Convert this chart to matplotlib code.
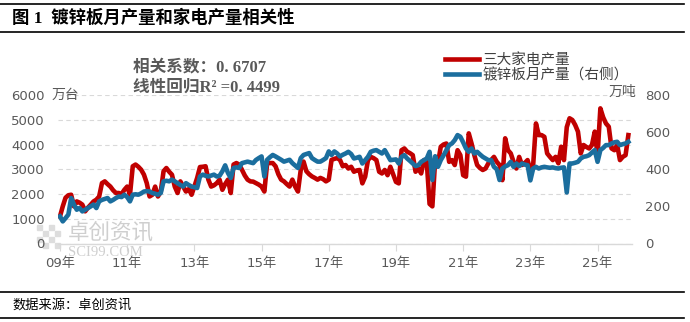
import numpy as np
import matplotlib
matplotlib.use("Agg")
import matplotlib.pyplot as plt
from matplotlib.lines import Line2D
from matplotlib.patches import Rectangle

plt.rcParams['font.family'] = ['DejaVu Sans', 'Noto Sans CJK SC']

# 月度数据 2009-01 ~ 2025-12
appliance = [  # 三大家电产量 (万台)
    1090, 1500, 1850, 1950, 1970, 1500, 1700, 1650, 1570, 1300, 1450, 1570,
    1700, 1770, 1900, 2440, 2510, 2400, 2300, 2150, 2040, 2040, 2000, 2170,
    2300, 1970, 3120, 3190, 3100, 2980, 2780, 2440, 1900, 1970, 2300, 1900,
    2100, 2920, 3050, 2900, 2780, 2300, 2040, 2510, 2300, 2100, 2200, 1970,
    2300, 2650, 3090, 3100, 3120, 2580, 2300, 2350, 2440, 2580, 2170, 2400,
    2580, 2040, 3190, 3250, 3190, 2980, 2750, 2580, 2510, 2500, 2440, 2380,
    2300, 2100, 3250, 3250, 3250, 3120, 2800, 2580, 2510, 2400, 2300, 2580,
    2300, 2100, 2980, 3310, 2920, 2800, 2710, 2650, 2580, 2650, 2600, 2510,
    2580, 3380, 3420, 3450, 3380, 3120, 3170, 3030, 3100, 2900, 2950, 2970,
    2430, 2700, 3370, 3500, 3450, 3370, 2900, 2830, 2970, 2760, 3100, 2800,
    2490, 2430, 3770, 3840, 3710, 3650, 3570, 2900, 3030, 2830, 3370, 3300,
    1600, 1500, 3370, 3240, 3910, 4000, 4040, 3300, 3370, 3170, 3770, 3570,
    2760, 2700, 4450, 4040, 3570, 3170, 3050, 2970, 3030, 3240, 3370, 3500,
    3300, 3170, 2560, 4250, 3770, 3640, 3300, 3030, 3500, 3170, 3250, 3370,
    2970, 3170, 4850, 4380, 4380, 4310, 3640, 3500, 3370, 3500, 3240, 3910,
    3370, 4700, 5060, 4990, 4790, 4520, 3640, 3980, 3900, 3840, 3980, 4520,
    3570, 5460, 5100, 4850, 4720, 3840, 3770, 3980, 3370, 3500, 3570, 4380,
]
galv = [  # 镀锌板月产量 (万吨)
    146, 119, 137, 156, 245, 210, 182, 191, 173, 182, 191, 200,
    210, 191, 227, 235, 240, 245, 227, 235, 245, 253, 250, 263,
    250, 227, 263, 265, 263, 270, 280, 282, 280, 272, 268, 263,
    272, 335, 338, 335, 344, 335, 325, 315, 307, 325, 315, 307,
    303, 299, 361, 371, 365, 361, 366, 371, 361, 365, 389, 421,
    380, 353, 407, 410, 407, 433, 437, 441, 437, 433, 450, 460,
    469, 361, 451, 465, 477, 469, 460, 451, 441, 446, 451, 433,
    420, 407, 460, 477, 482, 487, 460, 450, 441, 441, 450, 460,
    496, 477, 496, 485, 469, 478, 485, 494, 482, 458, 462, 467,
    431, 449, 467, 494, 500, 503, 494, 485, 503, 476, 449, 451,
    453, 431, 467, 476, 458, 445, 431, 417, 422, 440, 449, 458,
    494, 342, 470, 413, 449, 475, 503, 530, 539, 557, 584, 575,
    545, 512, 494, 512, 485, 494, 480, 467, 458, 449, 449, 413,
    400, 342, 404, 415, 422, 440, 413, 431, 417, 431, 425, 422,
    340, 404, 413, 404, 410, 413, 410, 408, 410, 406, 404, 408,
    410, 275, 431, 431, 435, 440, 458, 467, 470, 476, 490, 503,
    440, 503, 515, 530, 530, 539, 545, 548, 530, 535, 539, 548,
]
years = ['09年', '11年', '13年', '15年', '17年', '19年', '21年', '23年', '25年']
tick_pos = [i * 24 for i in range(len(years))]
x = np.arange(len(appliance))

RED = '#C00000'
BLUE = '#1B6E9E'
GRAY = '#595959'
W, H = 690, 322


def fx(px):
    return px / W


def fy(py):
    return 1 - py / H


fig = plt.figure(figsize=(6.9, 3.22), dpi=100)

# watermark (behind everything)
for i in range(4):
    for j in range(4):
        if (i + j) % 2 == 0:
            fig.add_artist(Rectangle((fx(37 + i * 6), fy(230 + j * 6)), 5 / W, 5 / H,
                                     color='#dddddd', zorder=0))
fig.text(fx(68), fy(233), '卓创资讯', fontsize=15.5, color='#cfcfcf', family=['Noto Sans CJK SC'],
         va='center', ha='left', zorder=0)
fig.text(fx(68), fy(252), 'SCI99.COM', fontsize=10.5, color='#cfcfcf', family=['Liberation Serif'],
         va='center', ha='left', zorder=0)

ax = fig.add_axes([fx(58), fy(243.5), fx(632) - fx(58), fy(95) - fy(243.5)])
ax.patch.set_alpha(0)
ax2 = ax.twinx()

l1, = ax.plot(x, appliance, color=RED, lw=3.3, solid_joinstyle='round', label='三大家电产量')
l2, = ax2.plot(x, galv, color=BLUE, lw=3.3, solid_joinstyle='round', label='镀锌板月产量（右侧）')

ax.set_xlim(-0.7, 204.3)
ax.set_ylim(0, 6000)
ax2.set_ylim(0, 800)
ax.set_yticks(range(0, 6001, 1000))
ax2.set_yticks(range(0, 801, 200))
ax.set_xticks(tick_pos)
ax.set_xticklabels(years)
ax.grid(axis='y', color='#d9d9d9', ls=(0, (4, 3)), lw=0.8)
ax.set_axisbelow(True)

for a in (ax, ax2):
    for s in ('top', 'left', 'right'):
        a.spines[s].set_visible(False)
    a.spines['bottom'].set_color('#d9d9d9')
    a.spines['bottom'].set_linewidth(1.0)
ax2.spines['bottom'].set_visible(False)

ax.tick_params(axis='y', length=0, pad=9.5, labelsize=9.5, labelcolor=GRAY)
ax2.tick_params(axis='y', length=0, pad=9.5, labelsize=9.5, labelcolor=GRAY)
ax.tick_params(axis='x', length=5, color='#d9d9d9', pad=5, labelsize=9.5, labelcolor=GRAY)

# units
fig.text(fx(52), fy(95), '万台', fontsize=10, color=GRAY, va='center', ha='left')
fig.text(fx(636), fy(92), '万吨', fontsize=10, color=GRAY, va='center', ha='right')

# title and rules
fig.add_artist(Line2D([0, fx(684)], [fy(4), fy(4)], color='black', lw=1.2))
fig.add_artist(Line2D([0, fx(684)], [fy(31.5), fy(31.5)], color='black', lw=1.2))
fig.text(fx(12), fy(18), '图 1  镀锌板月产量和家电产量相关性', fontsize=12.5, fontweight='bold',
         family=['Liberation Serif', 'Noto Sans CJK SC'], va='center', ha='left', color='black')
fig.add_artist(Line2D([0, fx(684)], [fy(291.5), fy(291.5)], color='black', lw=1.2))
fig.add_artist(Line2D([0, fx(684)], [fy(318), fy(318)], color='black', lw=1.2))
fig.text(fx(12), fy(305), '数据来源：卓创资讯', fontsize=9.5, family=['Noto Sans CJK SC'],
         va='center', ha='left', color='black')

# correlation annotation
fig.text(fx(133), fy(67), '相关系数：0. 6707', fontsize=12, fontweight='bold', color=GRAY,
         family=['Liberation Serif', 'Noto Sans CJK SC'], va='center', ha='left')
fig.text(fx(133), fy(88), '线性回归R² =0. 4499', fontsize=12, fontweight='bold', color=GRAY,
         family=['Liberation Serif', 'Noto Sans CJK SC'], va='center', ha='left')

leg = fig.legend(handles=[l1, l2], loc='upper left', bbox_to_anchor=(fx(438), fy(46)),
                 frameon=False, handlelength=2.3, handletextpad=0.25,
                 labelspacing=0.05, borderpad=0, prop={'family': ['Noto Sans CJK SC'], 'size': 10.5})
for t in leg.get_texts():
    t.set_color('#404040')

fig.savefig('out.png', dpi=100)
